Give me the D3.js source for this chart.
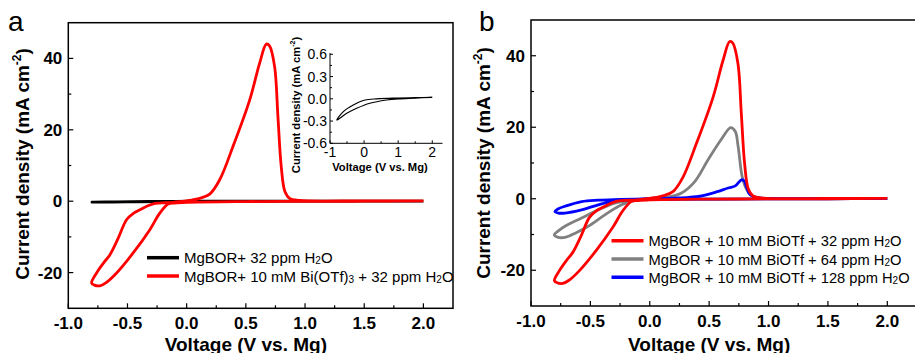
<!DOCTYPE html>
<html lang="en">
<head>
<meta charset="UTF-8">
<title>CV curves</title>
<script src="https://d3js.org/d3.v7.min.js"></script>
<style>
  body { margin: 0; background: #fff; }
  svg { display: block; font-family: Arial, 'Liberation Sans', sans-serif; }
</style>
</head>
<body>
<div id="chart"></div>
<script>
// --- data (voltage V vs. Mg, current density mA cm-2) ---
const xTicks = [-1.0, -0.5, 0.0, 0.5, 1.0, 1.5, 2.0];
const yTicks = [-20, 0, 20, 40];
const insetXTicks = [-1, 0, 1, 2];
const insetYTicks = [-0.6, -0.3, 0.0, 0.3, 0.6];

// MgBOR + 32 ppm H2O (black, also in inset)
const blackV = [2.0, 1.5, 1.0, 0.66, 0.17, -0.217, -0.51, -0.8, -0.6, -0.317, 0.026, 0.37, 1.0, 1.5, 2.0];
const blackJ = [0.02, 0.01, 0.0, -0.016, -0.06, -0.128, -0.196, -0.286, -0.17, -0.084, -0.016, 0.0, 0.01, 0.015, 0.02];

// + 10 mM Bi(OTf)3 + 32 ppm H2O (red)
const redV = [2.0, 1.5, 1.0, 0.5, 0.0, -0.1, -0.157, -0.23, -0.311, -0.452, -0.592, -0.68, -0.733, -0.78, -0.803,
  -0.761, -0.70, -0.648, -0.58, -0.508, -0.45, -0.395, -0.283, -0.115, 0.0, 0.11, 0.195, 0.279, 0.391, 0.532,
  0.616, 0.673, 0.70, 0.743, 0.771, 0.799, 0.83, 0.869, 0.95, 1.5, 2.0];
const redJ = [0.1, 0.0, -0.05, -0.1, -0.3, -0.5, -0.8, -3.5, -8.0, -14.5, -20.1, -22.8, -23.7, -23.5, -22.9,
  -20.1, -17.2, -15.0, -10.5, -5.2, -3.4, -2.4, -0.75, -0.3, 0.1, 0.8, 2.0, 6.0, 15.3, 28.3,
  38.6, 44.0, 43.5, 37.7, 23.7, 9.7, 2.7, 0.8, 0.2, 0.1, 0.1];

// + 64 ppm H2O (gray)
const grayV = [2.0, 1.5, 1.0, 0.5, 0.0, -0.1, -0.237, -0.378, -0.518, -0.62, -0.714, -0.77, -0.804, -0.77, -0.714,
  -0.574, -0.434, -0.294, -0.11, 0.0, 0.155, 0.267, 0.379, 0.491, 0.6, 0.682, 0.72, 0.744, 0.778, 0.814, 0.86, 0.95, 1.5, 2.0];
const grayJ = [0.05, 0.0, -0.05, -0.1, -0.2, -0.3, -1.7, -4.5, -7.7, -9.5, -10.8, -10.8, -10.1, -9.0, -7.7,
  -5.4, -3.1, -1.2, -0.3, 0.1, 0.5, 1.6, 4.8, 10.9, 16.5, 19.9, 18.8, 14.6, 6.2, 2.7, 0.8, 0.2, 0.1, 0.05];

// + 128 ppm H2O (blue)
const blueV = [2.0, 1.5, 1.0, 0.5, 0.0, -0.15, -0.294, -0.434, -0.574, -0.714, -0.77, -0.798, -0.77, -0.714, -0.574,
  -0.434, -0.25, 0.0, 0.2, 0.33, 0.436, 0.56, 0.66, 0.72, 0.772, 0.795, 0.814, 0.84, 0.9, 1.0, 1.5, 2.0];
const blueJ = [0.05, 0.0, -0.05, -0.1, -0.2, -0.3, -0.6, -1.7, -3.1, -4.0, -4.0, -3.6, -2.8, -2.1, -0.8,
  -0.4, -0.2, 0.0, 0.2, 0.4, 0.8, 1.9, 3.0, 3.6, 5.3, 5.0, 3.4, 1.3, 0.3, 0.1, 0.05, 0.05];

const legendA = [
  {color: "#000000", parts: [["MgBOR+ 32 ppm H"], ["2", "sub"], ["O"]]},
  {color: "#ff0000", parts: [["MgBOR+ 10 mM Bi(OTf)"], ["3", "sub"], [" + 32 ppm H"], ["2", "sub"], ["O"]]}
];
const legendB = [
  {color: "#ff0000", parts: [["MgBOR + 10 mM BiOTf + 32 ppm H"], ["2", "sub"], ["O"]]},
  {color: "#808080", parts: [["MgBOR + 10 mM BiOTf + 64 ppm H"], ["2", "sub"], ["O"]]},
  {color: "#0000ff", parts: [["MgBOR + 10 mM BiOTf + 128 ppm H"], ["2", "sub"], ["O"]]}
];

const W = 915, H = 353;
const svg = d3.select("#chart").append("svg").attr("width", W).attr("height", H);

const zip = (vs, js) => vs.map((v, i) => [v, js[i]]);
// plain hyphen for negatives, like the original figure
const fmt1 = d => d3.format(".1f")(d).replace("\u2212", "-");

function drawPanel(cfg) {
  const x = d3.scaleLinear().domain([-1, 2.25]).range([cfg.left, cfg.right]);
  const y = d3.scaleLinear().domain([-30, 50]).range([cfg.bottom, cfg.top]);
  const g = svg.append("g");

  // frame
  g.append("rect").attr("x", cfg.left).attr("y", cfg.top)
    .attr("width", cfg.right - cfg.left).attr("height", cfg.bottom - cfg.top)
    .attr("fill", "none").attr("stroke", "#000").attr("stroke-width", 1.5);

  // ticks (inward)
  const minorX = d3.range(-1, 2.01, 0.25);
  g.selectAll(".mx").data(minorX).enter().append("line")
    .attr("x1", d => x(d)).attr("x2", d => x(d))
    .attr("y1", cfg.bottom).attr("y2", d => cfg.bottom - (Math.abs(d * 2 - Math.round(d * 2)) < 1e-6 ? 5 : 3))
    .attr("stroke", "#000").attr("stroke-width", 1.2);
  const minorY = d3.range(-20, 41, 10);
  g.selectAll(".my").data(minorY).enter().append("line")
    .attr("y1", d => y(d)).attr("y2", d => y(d))
    .attr("x1", cfg.left).attr("x2", d => cfg.left + (d % 20 === 0 ? 5 : 3))
    .attr("stroke", "#000").attr("stroke-width", 1.2);

  g.selectAll(".xl").data(xTicks).enter().append("text")
    .attr("x", d => x(d)).attr("y", cfg.bottom + 21)
    .attr("text-anchor", "middle").attr("font-size", 17).attr("font-weight", "bold")
    .text(fmt1);
  g.selectAll(".yl").data(yTicks).enter().append("text")
    .attr("x", cfg.left - 6).attr("y", d => y(d) + 6)
    .attr("text-anchor", "end").attr("font-size", 17).attr("font-weight", "bold")
    .text(d => d);

  // axis titles
  g.append("text").attr("x", (cfg.left + x(2.0)) / 2).attr("y", 351)
    .attr("text-anchor", "middle").attr("font-size", 19).attr("font-weight", "bold")
    .text("Voltage (V vs. Mg)");
  const yt = g.append("text").attr("transform", `translate(${cfg.ylabX},${cfg.ylabY}) rotate(-90)`)
    .attr("text-anchor", "middle").attr("font-size", 19).attr("font-weight", "bold");
  yt.append("tspan").text("Current density (mA cm");
  yt.append("tspan").text("-2").attr("font-size", 12).attr("dy", -8);
  yt.append("tspan").text(")").attr("dy", 8);

  // panel letter
  svg.append("text").attr("x", cfg.letterX).attr("y", 31).attr("font-size", 28).text(cfg.letter);

  // curves
  const line = d3.line().x(d => x(d[0])).y(d => y(d[1])).curve(d3.curveCatmullRom.alpha(0.5));
  cfg.series.forEach(s => {
    g.append("path").datum(zip(s.v, s.j)).attr("d", line)
      .attr("fill", "none").attr("stroke", s.color).attr("stroke-width", 2.8)
      .attr("stroke-linejoin", "round");
  });

  // legend
  cfg.legend.forEach((d, i) => {
    const ly = cfg.legY + i * cfg.legStep;
    g.append("line").attr("x1", cfg.legX).attr("x2", cfg.legX + 32)
      .attr("y1", ly).attr("y2", ly).attr("stroke", d.color).attr("stroke-width", 3.5);
    const t = g.append("text").attr("x", cfg.legX + 37).attr("y", ly + 5.5).attr("font-size", cfg.legFont);
    let prevSub = false;
    d.parts.forEach(p => {
      const ts = t.append("tspan").text(p[0]);
      if (p[1] === "sub") { ts.attr("font-size", 10).attr("dy", 1); prevSub = true; }
      else if (prevSub) { ts.attr("dy", -1); prevSub = false; }
    });
  });
}

drawPanel({
  left: 68.3, right: 453, top: 22.7, bottom: 308.3, ylabX: 29, ylabY: 164,
  letter: "a", letterX: 8,
  series: [{v: blackV, j: blackJ, color: "#000000"}, {v: redV, j: redJ, color: "#ff0000"}],
  legend: legendA, legX: 147, legY: 257.7, legStep: 18.3, legFont: 15
});

drawPanel({
  left: 531, right: 917, top: 20, bottom: 306, ylabX: 490, ylabY: 163,
  letter: "b", letterX: 479,
  series: [{v: grayV, j: grayJ, color: "#808080"}, {v: blueV, j: blueJ, color: "#0000ff"}, {v: redV, j: redJ, color: "#ff0000"}],
  legend: legendB, legX: 611.5, legY: 240.7, legStep: 18.3, legFont: 14.7
});

// inset in panel a
(function inset() {
  const x = d3.scaleLinear().domain([-1, 2.3]).range([330, 442.5]);
  const y = d3.scaleLinear().domain([-0.6, 0.6]).range([143.3, 54.3]);
  const g = svg.append("g");
  g.append("line").attr("x1", 330).attr("x2", 330).attr("y1", 53).attr("y2", 143.3).attr("stroke", "#000").attr("stroke-width", 1);
  g.append("line").attr("x1", 330).attr("x2", x(2.3)).attr("y1", 143.3).attr("y2", 143.3).attr("stroke", "#000").attr("stroke-width", 1);
  g.selectAll(".ixt").data(d3.range(-1, 2.01, 0.5)).enter().append("line")
    .attr("x1", d => x(d)).attr("x2", d => x(d)).attr("y1", 143.3)
    .attr("y2", d => 143.3 - (Number.isInteger(d) ? 3 : 2)).attr("stroke", "#000");
  g.selectAll(".iyt").data(d3.range(-0.6, 0.61, 0.15)).enter().append("line")
    .attr("y1", d => y(d)).attr("y2", d => y(d)).attr("x1", 330)
    .attr("x2", (d, i) => 330 + (i % 2 === 0 ? 3 : 2)).attr("stroke", "#000");
  g.selectAll(".ixl").data(insetXTicks).enter().append("text")
    .attr("x", d => x(d)).attr("y", 157).attr("text-anchor", "middle").attr("font-size", 14).text(d => String(d));
  g.selectAll(".iyl").data(insetYTicks).enter().append("text")
    .attr("x", 327).attr("y", d => y(d) + 5).attr("text-anchor", "end").attr("font-size", 14)
    .text(fmt1);
  g.append("text").attr("x", 380).attr("y", 171).attr("text-anchor", "middle")
    .attr("font-size", 11.2).attr("font-weight", "bold").text("Voltage (V vs. Mg)");
  const yt = g.append("text").attr("transform", "translate(300,105) rotate(-90)")
    .attr("text-anchor", "middle").attr("font-size", 11.2).attr("font-weight", "bold");
  yt.append("tspan").text("Current density (mA cm");
  yt.append("tspan").text("-2").attr("font-size", 7).attr("dy", -5);
  yt.append("tspan").text(")").attr("dy", 5);
  const line = d3.line().x(d => x(d[0])).y(d => y(d[1])).curve(d3.curveCatmullRom.alpha(0.5));
  g.append("path").datum(zip(blackV, blackJ)).attr("d", line)
    .attr("fill", "none").attr("stroke", "#000").attr("stroke-width", 1.2);
})();
</script>
</body>
</html>
